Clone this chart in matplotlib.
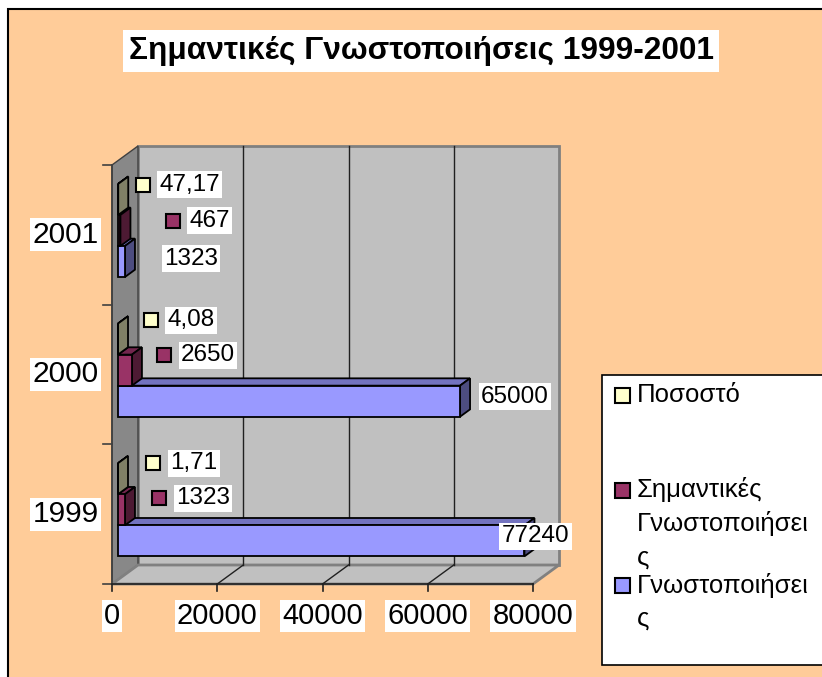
import matplotlib
matplotlib.use('Agg')
import matplotlib.pyplot as plt
import matplotlib.transforms as mtransforms
from matplotlib.patches import Polygon, Rectangle

plt.rcParams['font.family'] = ['Liberation Sans', 'DejaVu Sans']

# ---- data ----
title = 'Σημαντικές Γνωστοποιήσεις 1999-2001'
years = ['1999', '2000', '2001']
series = ['Γνωστοποιήσεις', 'Σημαντικές Γνωστοποιήσεις', 'Ποσοστό']
legend_labels = ['Γνωστοποιήσει\nς', 'Σημαντικές\nΓνωστοποιήσει\nς', 'Ποσοστό']
notifications = [77240, 65000, 1323]
important = [1323, 2650, 467]
percent = [1.71, 4.08, 47.17]
x_ticks = [0, 20000, 40000, 60000, 80000]

values = [notifications, important, percent]

# face colours (front, top, side) per series
colors = [('#9999FF', '#7373BF', '#4D4D80'),
          ('#993366', '#73264D', '#4D1A33'),
          ('#FFFFCC', '#BFBF99', '#808066')]

# label nudges in pixels (dx right, dy down) from the bar end
nudges = {
    (0, 0): (-31, -1), (0, 1): (13, -1), (0, 2): (31, 1),
    (1, 0): (22, -8), (1, 1): (20, -11), (1, 2): (40, -6),
    (2, 0): (23, -12), (2, 1): (20, -15), (2, 2): (12, -11),
}

# ---- geometry (pixels of the 822x677 picture) ----
W, H = 822, 677
X0, XPX = 112, 421          # front axis origin and length for 80000
YB, CPX = 584, 139.67       # front bottom and pixels per category
VPX = 80000 / XPX           # value units per pixel
DX, DY = 26 * VPX, 19 / CPX # depth offset of the back wall
BAR_W = 1 / 4.5
D_F, D_B = 0.23, 0.615
D_M = (D_F + D_B) / 2

fig = plt.figure(figsize=(W / 100, H / 100), dpi=100)
ax = fig.add_axes([0, 0, 1, 1])
ax.set_xlim(-X0 * VPX, (W - X0) * VPX)
ax.set_ylim(-0.5 - (H - YB) / CPX, -0.5 + YB / CPX)
ax.axis('off')

px = mtransforms.Affine2D().scale(1 / W, -1 / H).translate(0, 1) + fig.transFigure


def P(v, c, d):
    return (v + d * DX, c + d * DY)


def poly(pts, fc, ec, lw, z):
    ax.add_patch(Polygon(pts, closed=True, fc=fc, ec=ec, lw=lw, zorder=z,
                         joinstyle='miter'))


# outer chart area
ax.add_patch(Rectangle((8, 9), 900, 800, transform=px, fc='#FFCC99',
                       ec='black', lw=1.5, zorder=0, clip_on=False))

top_c, bot_c = len(years) - 0.5, -0.5
xmax = x_ticks[-1]

# walls
poly([P(0, bot_c, 1), P(xmax, bot_c, 1), P(xmax, top_c, 1), P(0, top_c, 1)],
     '#C0C0C0', '#808080', 2, 1)
poly([P(0, bot_c, 0), P(0, bot_c, 1), P(0, top_c, 1), P(0, top_c, 0)],
     '#888888', '#404040', 1, 1)
poly([P(0, bot_c, 0), P(xmax, bot_c, 0), P(xmax, bot_c, 1), P(0, bot_c, 1)],
     '#C0C0C0', '#808080', 2, 1)

for v in x_ticks[1:-1]:
    ax.plot(*zip(P(v, bot_c, 1), P(v, top_c, 1)), color='#202020', lw=1, zorder=2)
    ax.plot(*zip(P(v, bot_c, 0), P(v, bot_c, 1)), color='#202020', lw=1, zorder=2)

# axis lines and ticks
ax.plot([0, 0], [bot_c, top_c], color='#404040', lw=1.2, zorder=2)
ax.plot([0, xmax], [bot_c, bot_c], color='#202020', lw=1.2, zorder=2)
for k in range(len(years) + 1):
    c = bot_c + k
    ax.plot([-9 * VPX, 0], [c, c], color='#404040', lw=1.2, zorder=2)
for v in x_ticks:
    ax.plot([v, v], [bot_c, bot_c - 7 / CPX], color='#202020', lw=1.2, zorder=2)
    ax.annotate(str(v), (v, bot_c), xytext=(0, -32), textcoords='offset pixels',
                ha='center', va='center', fontsize=21, zorder=6,
                bbox=dict(boxstyle='square,pad=0.08', fc='white', ec='none'))
for i, y in enumerate(years):
    ax.annotate(y, (0, i), xytext=(-13, 0), textcoords='offset pixels',
                ha='right', va='center', fontsize=21.5, zorder=6,
                bbox=dict(boxstyle='square,pad=0.08', fc='white', ec='none'))

# bars
for i in range(len(years)):
    for j, vals in enumerate(values):
        v = vals[i]
        fc, tc, sc = colors[j]
        y0 = i - 1.5 * BAR_W + j * BAR_W
        y1 = y0 + BAR_W
        z = 3 + i * 0.1 + j * 0.01
        poly([P(0, y1, D_F), P(v, y1, D_F), P(v, y1, D_B), P(0, y1, D_B)], tc, 'black', 1.3, z)
        poly([P(v, y0, D_F), P(v, y0, D_B), P(v, y1, D_B), P(v, y1, D_F)], sc, 'black', 1.3, z)
        poly([P(0, y0, D_F), P(v, y0, D_F), P(v, y1, D_F), P(0, y1, D_F)], fc, 'black', 1.3, z)

# data labels
for i in range(len(years)):
    for j, vals in enumerate(values):
        v = vals[i]
        text = f'{v:.2f}'.replace('.', ',') if j == 2 else str(v)
        ax_, ay_ = P(v, i - 1.5 * BAR_W + (j + 0.5) * BAR_W, D_M)
        dx, dy = nudges[(j, i)]
        if j > 0:
            tr = ax.transData + mtransforms.ScaledTranslation((dx + 7.5) / 100, -dy / 100,
                                                              fig.dpi_scale_trans)
            ax.plot([ax_], [ay_], marker='s', ms=10.5, mfc=colors[j][0], mec='black',
                    mew=1.5, transform=tr, zorder=7, clip_on=False)
            dx += 21
        ax.annotate(text, (ax_, ay_), xytext=(dx + 3, -dy), textcoords='offset pixels',
                    ha='left', va='center', fontsize=17.5, zorder=7,
                    bbox=dict(boxstyle='square,pad=0.1', fc='white', ec='none'))

# title
ax.text(421, 51, title, transform=px, ha='center', va='center', fontsize=22.8,
        fontweight='bold', zorder=8,
        bbox=dict(boxstyle='square,pad=0.18', fc='white', ec='none'))

# legend
ax.add_patch(Rectangle((602, 375), 300, 290, transform=px, fc='white', ec='black',
                       lw=1.2, zorder=8, clip_on=False))
leg_rows = [395, 490, 585]
for row, j in zip(leg_rows, [2, 1, 0]):
    ax.add_patch(Rectangle((615, row - 7.5), 15, 15, transform=px, fc=colors[j][0],
                           ec='black', lw=1.5, zorder=9, clip_on=False))
    for k, line in enumerate(legend_labels[j].split('\n')):
        ax.text(637, row + k * 34, line, transform=px, ha='left', va='center',
                fontsize=18.5, zorder=9)

fig.savefig('out.png', dpi=100)
